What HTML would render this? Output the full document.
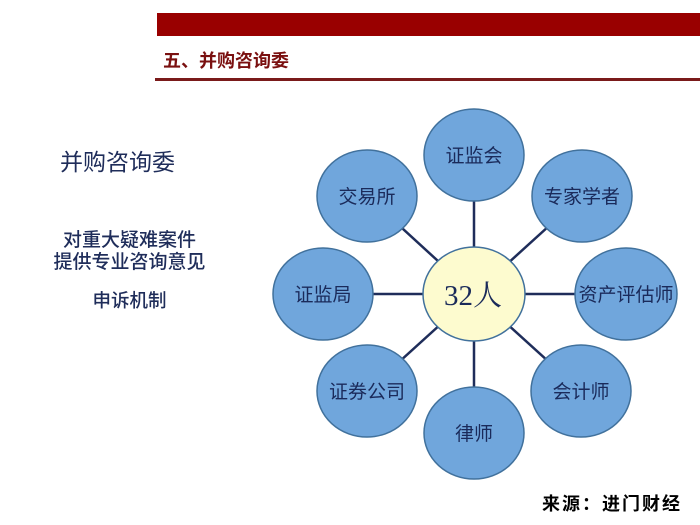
<!DOCTYPE html>
<html><head><meta charset="utf-8"><style>
html,body{margin:0;padding:0;background:#fff;}
body{width:700px;height:525px;position:relative;overflow:hidden;font-family:"Liberation Sans","Noto Sans CJK SC",sans-serif;}
.t{position:absolute;white-space:nowrap;}
</style></head><body>
<div style="position:absolute;left:157px;top:13px;width:543px;height:23px;background:#990000;"></div>
<div class="t" style="left:163px;top:47px;font-size:18px;font-weight:bold;color:#7a1010;font-family:'Noto Sans CJK SC',sans-serif;">五、并购咨询委</div>
<div style="position:absolute;left:155px;top:78px;width:545px;height:3px;background:#7a1a1a;"></div>
<div class="t" style="left:60px;top:143px;font-size:23px;color:#1f2d5a;">并购咨询委</div>
<div class="t" style="left:0;width:259px;text-align:center;top:230px;font-size:19px;line-height:22px;font-weight:500;color:#1f2d5a;">对重大疑难案件<br>提供专业咨询意见</div>
<div class="t" style="left:0;width:259px;text-align:center;top:287px;font-size:18.5px;font-weight:500;color:#1f2d5a;">申诉机制</div>
<svg width="700" height="525" style="position:absolute;left:0;top:0" font-family="Liberation Sans, Noto Sans CJK SC, sans-serif">
<g stroke="#1f2d5a" stroke-width="2.5">
<line x1="474" y1="294" x2="474" y2="155"/>
<line x1="474" y1="294" x2="474" y2="433"/>
<line x1="474" y1="294" x2="323" y2="294"/>
<line x1="474" y1="294" x2="626" y2="294"/>
<line x1="474" y1="294" x2="367" y2="196"/>
<line x1="474" y1="294" x2="582" y2="196"/>
<line x1="474" y1="294" x2="367" y2="391"/>
<line x1="474" y1="294" x2="581" y2="391"/>
</g>
<g fill="#70a6dc" stroke="#41719c" stroke-width="1.5">
<ellipse cx="474" cy="155" rx="50" ry="46"/>
<ellipse cx="474" cy="433" rx="50" ry="46"/>
<ellipse cx="323" cy="294" rx="50" ry="46"/>
<ellipse cx="626" cy="294" rx="51" ry="46"/>
<ellipse cx="367" cy="196" rx="50" ry="46"/>
<ellipse cx="582" cy="196" rx="50" ry="46"/>
<ellipse cx="367" cy="391" rx="50" ry="46"/>
<ellipse cx="581" cy="391" rx="50" ry="46"/>
</g>
<ellipse cx="474" cy="294" rx="51" ry="47" fill="#fdfbcf" stroke="#41719c" stroke-width="1.5"/>
<g fill="#1a2a5a" font-size="19" text-anchor="middle">
<text x="474" y="162">证监会</text>
<text x="474" y="440">律师</text>
<text x="323" y="301">证监局</text>
<text x="626" y="301">资产评估师</text>
<text x="367" y="203">交易所</text>
<text x="582" y="203">专家学者</text>
<text x="367" y="398">证券公司</text>
<text x="581" y="398">会计师</text>
<text x="473" y="305" font-size="29" font-family="Liberation Serif, Noto Serif CJK SC, serif">32人</text>
</g>
</svg>
<div class="t" style="left:542px;top:490px;font-size:18px;font-weight:bold;color:#000;letter-spacing:2px;">来源：进门财经</div>
</body></html>
